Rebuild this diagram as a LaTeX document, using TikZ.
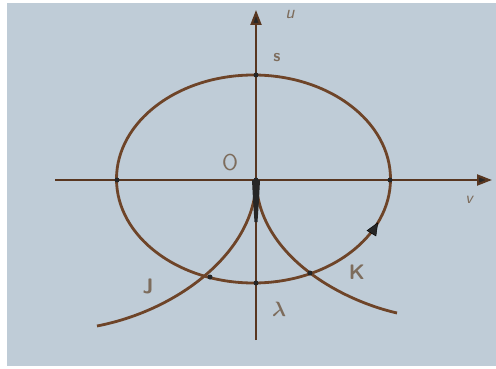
\documentclass[tikz,border=0pt]{standalone}
\usepackage{amsmath}
\usetikzlibrary{arrows.meta,decorations.markings}
\definecolor{bg}{HTML}{BFCCD7}
\definecolor{ink}{HTML}{6E4428}
\definecolor{lab}{HTML}{7D6C5C}
\tikzset{
  curve/.style={draw=ink,line width=2.8pt},
  axis/.style={draw=ink!80!black,line width=2.2pt,-{Triangle[length=15pt,width=11pt,fill=black!85]}},
  lbl/.style={text=lab,font=\sffamily\bfseries\fontsize{21}{21}\selectfont,inner sep=0pt},
  dot/.style={circle,fill=black!85,inner sep=0pt,minimum size=5pt},
}
\begin{document}
\begin{tikzpicture}[x=1pt,y=-1pt]
\useasboundingbox (0,0) rectangle (496,369);
\fill[white] (0,0) rectangle (496,369);
\fill[bg] (7,3) rectangle (496,366);
% key points
\coordinate (O) at (256,180);
\coordinate (Ltip) at (97,326);
\coordinate (Rtip) at (397,313);
\coordinate (Ubot) at (256,340);
\coordinate (Utop) at (256,10);
\coordinate (Vleft) at (55,180);
\coordinate (Vright) at (492,180);
% axes
\draw[axis] (Ubot) -- (Utop);
\draw[axis] (Vleft) -- (Vright);
% ellipse
\draw[curve] (253.5,179) ellipse [x radius=137,y radius=104];
% arrow on ellipse
\path[decorate,decoration={markings,mark=at position 0.76 with {\arrow{Triangle[length=13pt,width=11pt,fill=black!85]}}}]
  (253.5,283) arc[start angle=-90,end angle=0,x radius=137,y radius=-104];
% cusp branches
\draw[curve] (O) .. controls (256,250) and (180,310) .. (Ltip);
\draw[curve] (O) .. controls (258,255) and (340,300) .. (Rtip);
\fill[black!85] (252,180) -- (260,180) .. controls (259,200) .. (257.5,222) -- (254.5,222) .. controls (253,200) .. cycle;
% intersection dots
\node[dot] (dO) at (O) {};
\node[dot] (dS) at (256,75) {};
\node[dot] (dL) at (256,283) {};
\node[dot] (dA) at (117,180) {};
\node[dot] (dB) at (390,180) {};
\node[dot] (dJ) at (210,277) {};
\node[dot] (dK) at (310,273) {};
% labels
\node[lbl,font=\sffamily\itshape\fontsize{19}{19}\selectfont] (lu) at (290,14) {u};
\node[lbl,font=\sffamily\bfseries\fontsize{17}{17}\selectfont] (ls) at (277,58) {s};
\node[lbl,font=\sffamily\fontsize{23}{23}\selectfont] (lO) at (230,163) {O};
\node[lbl,font=\sffamily\itshape\fontsize{17}{17}\selectfont] (lv) at (469,200) {v};
\node[lbl] (lJ) at (148,286) {J};
\node[lbl] (lK) at (357,272) {K};
\node[lbl,font=\fontsize{20}{20}\selectfont] (ll) at (279,309) {$\boldsymbol{\lambda}$};
\end{tikzpicture}
\end{document}
